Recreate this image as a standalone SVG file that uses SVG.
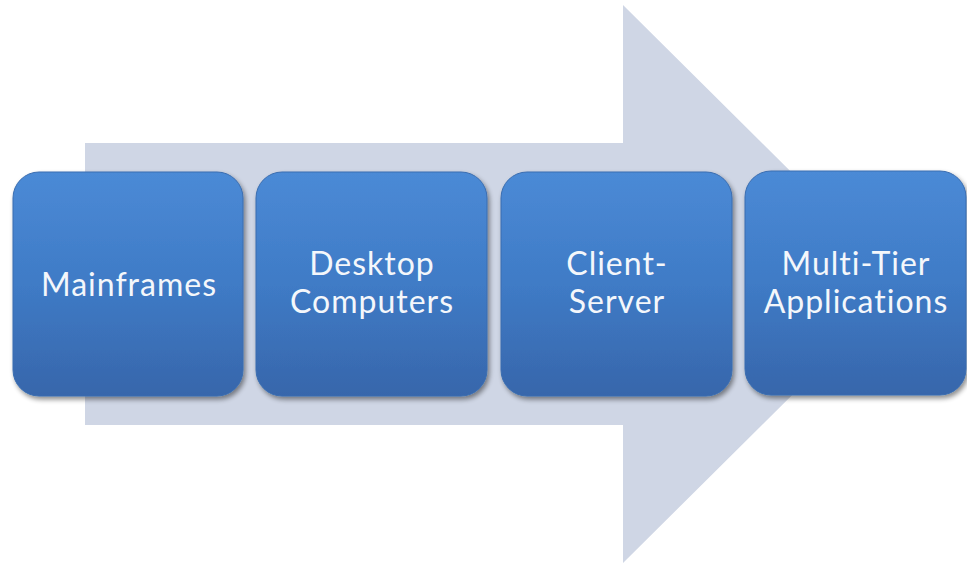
<svg xmlns="http://www.w3.org/2000/svg" width="967" height="563" viewBox="0 0 967 563">
<defs>
<linearGradient id="boxg" x1="0" y1="0" x2="0" y2="1">
<stop offset="0" stop-color="#4b8ad6"/>
<stop offset="0.5" stop-color="#3f7bc6"/>
<stop offset="1" stop-color="#3766ab"/>
</linearGradient>
<filter id="sh" x="-10%" y="-10%" width="125%" height="125%">
<feGaussianBlur in="SourceAlpha" stdDeviation="2.5"/>
<feOffset dx="2" dy="3" result="b"/>
<feComponentTransfer><feFuncA type="linear" slope="0.45"/></feComponentTransfer>
<feMerge><feMergeNode/><feMergeNode in="SourceGraphic"/></feMerge>
</filter>
</defs>
<style>
.box{fill:url(#boxg);stroke:#3a6db0;stroke-width:1;filter:url(#sh)}
.lbl{font-family:Lato,"Open Sans","Liberation Sans",sans-serif;font-size:32px;letter-spacing:1px;fill:#f4f7fb;text-anchor:middle}
</style>
<rect width="967" height="563" fill="#ffffff"/>
<g id="arrow">
<polygon points="85,143 623,143 623,5 904,284 623,563 623,425 85,425" fill="#cfd6e5"/>
</g>
<g id="connectors"></g>
<g id="mainframes">
<rect class="box" x="13" y="172" width="230" height="224" rx="26"/>
<text class="lbl" x="129" y="296">Mainframes</text>
</g>
<g id="desktop">
<rect class="box" x="256" y="172" width="231" height="224" rx="26"/>
<text class="lbl" x="372" y="275">Desktop</text>
<text class="lbl" x="372" y="313">Computers</text>
</g>
<g id="clientserver">
<rect class="box" x="501" y="172" width="231" height="224" rx="26"/>
<text class="lbl" x="617" y="275">Client-</text>
<text class="lbl" x="617" y="313">Server</text>
</g>
<g id="multitier">
<rect class="box" x="745" y="171" width="221" height="224" rx="26"/>
<text class="lbl" x="856" y="275">Multi-Tier</text>
<text class="lbl" x="856" y="313">Applications</text>
</g>
</svg>
